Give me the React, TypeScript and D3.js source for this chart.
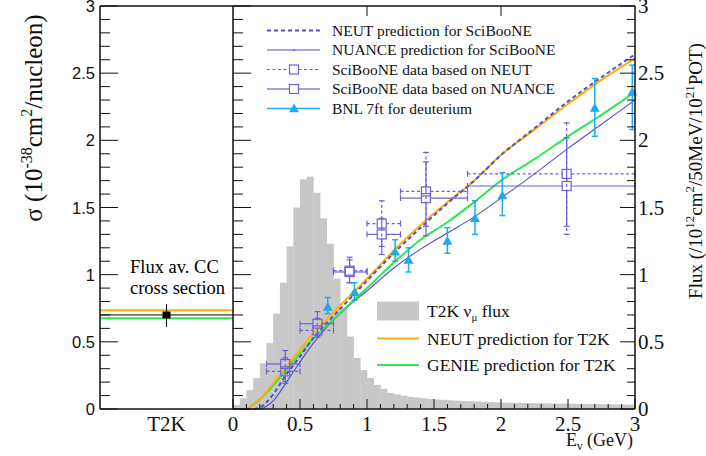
import React from "react";
import * as d3 from "d3";

// ---------------- DATA ----------------
// T2K nu_mu flux histogram, 50 MeV bins from 0 to 3 GeV (right axis units)
const fluxBinWidth = 0.05;
const fluxValues = [
  0.03, 0.08, 0.14, 0.23, 0.34, 0.49, 0.71, 0.94, 1.21, 1.5,
  1.71, 1.73, 1.61, 1.42, 1.23, 0.97, 0.75, 0.54, 0.38, 0.29,
  0.23, 0.18, 0.15, 0.12, 0.11, 0.1, 0.09, 0.085, 0.08, 0.075,
  0.07, 0.068, 0.065, 0.062, 0.06, 0.058, 0.056, 0.054, 0.052, 0.05,
  0.048, 0.047, 0.046, 0.045, 0.044, 0.043, 0.042, 0.041, 0.04, 0.04,
  0.039, 0.038, 0.037, 0.036, 0.036, 0.035, 0.034, 0.034, 0.033, 0.032,
];

// prediction curves (sigma vs E)
const curveE = [0, 0.1, 0.15, 0.2, 0.25, 0.3, 0.4, 0.5, 0.6, 0.7, 0.8, 0.9, 1.0, 1.2, 1.4, 1.6, 1.8, 2.0, 2.25, 2.5, 2.75, 3.0];
const neutSciBooNE = [0, 0, 0, 0.01, 0.05, 0.11, 0.26, 0.39, 0.53, 0.64, 0.745, 0.85, 0.955, 1.16, 1.35, 1.53, 1.7, 1.89, 2.09, 2.29, 2.47, 2.64];
const nuanceSciBooNE = [0, 0, 0, 0, 0.02, 0.06, 0.2, 0.35, 0.49, 0.61, 0.71, 0.8, 0.88, 1.05, 1.19, 1.31, 1.43, 1.57, 1.75, 1.94, 2.12, 2.3];
const neutT2K = [NaN, 0, 0.03, 0.07, 0.13, 0.19, 0.315, 0.44, 0.565, 0.665, 0.77, 0.87, 0.97, 1.18, 1.37, 1.54, 1.7, 1.89, 2.08, 2.27, 2.45, 2.61];
const genieT2K = [NaN, 0, 0.03, 0.07, 0.12, 0.175, 0.295, 0.41, 0.525, 0.62, 0.715, 0.81, 0.9, 1.09, 1.26, 1.39, 1.54, 1.7, 1.86, 2.03, 2.19, 2.36];

// SciBooNE data points
const sbE = [0.39, 0.63, 0.87, 1.11, 1.44, 2.49];
const sbELow = [0.25, 0.5, 0.75, 1.0, 1.25, 1.75];
const sbEHigh = [0.5, 0.75, 1.0, 1.25, 1.75, 3.0];
const sbNeut = [0.28, 0.585, 1.03, 1.38, 1.62, 1.75];
const sbNeutUp = [0.1, 0.09, 0.1, 0.17, 0.29, 0.38];
const sbNeutDn = [0.09, 0.05, 0.09, 0.17, 0.26, 0.45];
const sbNuance = [0.335, 0.635, 1.02, 1.3, 1.57, 1.66];
const sbNuanceUp = [0.1, 0.09, 0.09, 0.12, 0.27, 0.36];
const sbNuanceDn = [0.13, 0.09, 0.08, 0.15, 0.28, 0.3];

// BNL 7ft deuterium
const bnlE = [0.707, 0.907, 1.21, 1.31, 1.6, 1.806, 2.01, 2.7, 2.98];
const bnlSigma = [0.76, 0.87, 1.17, 1.11, 1.25, 1.42, 1.59, 2.24, 2.36];
const bnlUp = [0.07, 0.07, 0.09, 0.09, 0.1, 0.13, 0.17, 0.22, 0.2];
const bnlDn = [0.05, 0.06, 0.07, 0.09, 0.09, 0.12, 0.15, 0.21, 0.28];

// Flux averaged CC cross section (left panel)
const t2kMeasured = 0.7;
const t2kUp = 0.08;
const t2kDn = 0.09;
const t2kNeut = 0.735;
const t2kGenie = 0.675;

const yTicksMajor = [0, 0.5, 1, 1.5, 2, 2.5, 3];
const yTickLabels = ["0", "0.5", "1", "1.5", "2", "2.5", "3"];
const xTicksMajor = [0, 0.5, 1, 1.5, 2, 2.5, 3];
const xTickLabels = ["0", "0.5", "1", "1.5", "2", "2.5", "3"];

const legendTop = [
  "NEUT prediction for SciBooNE",
  "NUANCE prediction for SciBooNE",
  "SciBooNE data based on NEUT",
  "SciBooNE data based on NUANCE",
  "BNL 7ft for deuterium",
];

// ---------------- STYLE ----------------
const SERIF = "'Liberation Serif', 'Times New Roman', serif";
const SANS = "'Liberation Sans', Arial, sans-serif";
const C_ORANGE = "#ffb000";
const C_GREEN = "#2de84f";
const C_PRED = "#4f4fd8";
const C_DATA = "#6a62d6";
const C_BNL = "#1eaaee";
const C_HIST = "#c8c8c8";

const W = 706;
const H = 456;
const LX0 = 100;
const MX0 = 233;
const MX1 = 635;
const Y0 = 409;
const Y1 = 6;

export default function App() {
  const x = d3.scaleLinear().domain([0, 3]).range([MX0, MX1]);
  const y = d3.scaleLinear().domain([0, 3]).range([Y0, Y1]);
  const yFlux = d3.scaleLinear().domain([0, 3]).range([Y0, Y1]);

  const minor = d3.range(0, 3.0001, 0.1).map((v) => +v.toFixed(2));

  const lineGen = (vals: number[]) =>
    d3
      .line<number>()
      .defined((d) => !isNaN(d))
      .x((_, i) => x(curveE[i]))
      .y((d) => y(d))
      .curve(d3.curveMonotoneX)(vals) || "";

  const sq = 4.5;
  const cap = 3;

  const errBar = (
    xc: number,
    yc: number,
    xl: number,
    xh: number,
    yh: number,
    yl: number,
    color: string,
    dash: string | undefined,
    key: string,
    half: number
  ) => (
    <g key={key} stroke={color} strokeWidth={1.2} fill="none" strokeDasharray={dash}>
      <line x1={xl} x2={xc - half} y1={yc} y2={yc} />
      <line x1={xc + half} x2={xh} y1={yc} y2={yc} />
      <line x1={xc} x2={xc} y1={yc - half} y2={yh} />
      <line x1={xc} x2={xc} y1={yc + half} y2={yl} />
      <line x1={xl} x2={xl} y1={yc - cap} y2={yc + cap} strokeDasharray="none" />
      <line x1={xh} x2={xh} y1={yc - cap} y2={yc + cap} strokeDasharray="none" />
      <line x1={xc - cap} x2={xc + cap} y1={yh} y2={yh} strokeDasharray="none" />
      <line x1={xc - cap} x2={xc + cap} y1={yl} y2={yl} strokeDasharray="none" />
    </g>
  );

  const tri = (cx: number, cy: number, s: number) =>
    `M${cx},${cy - s} L${cx + s},${cy + s * 0.75} L${cx - s},${cy + s * 0.75} Z`;

  const t2kX = (LX0 + MX0) / 2;
  const lgX1 = 267;
  const lgX2 = 320;
  const lgMid = 294;
  const lgTextX = 332;
  const lgRows = [30.5, 50, 69.5, 89, 108.5];

  const l2X1 = 377;
  const l2X2 = 419;
  const l2TextX = 427;
  const l2Rows = [311, 338.5, 365];

  return (
    <svg width={W} height={H} style={{ position: "absolute", left: 0, top: 0, background: "#fff" }}>
      {/* histogram */}
      <g>
        {fluxValues.map((v, i) => (
          <rect
            key={i}
            x={x(i * fluxBinWidth)}
            y={yFlux(v)}
            width={x(fluxBinWidth) - x(0) + 0.3}
            height={Y0 - yFlux(v)}
            fill={C_HIST}
          />
        ))}
      </g>

      {/* prediction curves */}
      <path d={lineGen(nuanceSciBooNE)} fill="none" stroke={C_PRED} strokeWidth={1.1} />
      <path d={lineGen(genieT2K)} fill="none" stroke={C_GREEN} strokeWidth={2} />
      <path d={lineGen(neutT2K)} fill="none" stroke={C_ORANGE} strokeWidth={2} />
      <path d={lineGen(neutSciBooNE)} fill="none" stroke={C_PRED} strokeWidth={2} strokeDasharray="4,3" />

      {/* SciBooNE data based on NEUT (dashed) */}
      {sbE.map((e, i) =>
        errBar(
          x(e),
          y(sbNeut[i]),
          x(sbELow[i]),
          x(sbEHigh[i]),
          y(sbNeut[i] + sbNeutUp[i]),
          y(sbNeut[i] - sbNeutDn[i]),
          C_DATA,
          "3,2.5",
          "neut" + i,
          sq
        )
      )}
      {sbE.map((e, i) => (
        <rect key={"sqn" + i} x={x(e) - sq} y={y(sbNeut[i]) - sq} width={sq * 2} height={sq * 2} fill="none" stroke={C_DATA} strokeWidth={1.2} />
      ))}
      {/* SciBooNE data based on NUANCE (solid) */}
      {sbE.map((e, i) =>
        errBar(
          x(e),
          y(sbNuance[i]),
          x(sbELow[i]),
          x(sbEHigh[i]),
          y(sbNuance[i] + sbNuanceUp[i]),
          y(sbNuance[i] - sbNuanceDn[i]),
          C_DATA,
          undefined,
          "nua" + i,
          sq
        )
      )}
      {sbE.map((e, i) => (
        <rect key={"squ" + i} x={x(e) - sq} y={y(sbNuance[i]) - sq} width={sq * 2} height={sq * 2} fill="none" stroke={C_DATA} strokeWidth={1.2} />
      ))}

      {/* BNL */}
      {bnlE.map((e, i) => (
        <g key={"bnl" + i} stroke={C_BNL} strokeWidth={1.5}>
          <line x1={x(e)} x2={x(e)} y1={y(bnlSigma[i] + bnlUp[i])} y2={y(bnlSigma[i] - bnlDn[i])} />
          <line x1={x(e) - cap} x2={x(e) + cap} y1={y(bnlSigma[i] + bnlUp[i])} y2={y(bnlSigma[i] + bnlUp[i])} />
          <line x1={x(e) - cap} x2={x(e) + cap} y1={y(bnlSigma[i] - bnlDn[i])} y2={y(bnlSigma[i] - bnlDn[i])} />
          <path d={tri(x(e), y(bnlSigma[i]), 5)} fill={C_BNL} stroke="none" />
        </g>
      ))}

      {/* left panel */}
      <line x1={LX0} x2={MX0} y1={y(t2kNeut)} y2={y(t2kNeut)} stroke={C_ORANGE} strokeWidth={2} />
      <line x1={LX0} x2={MX0} y1={y(t2kGenie)} y2={y(t2kGenie)} stroke={C_GREEN} strokeWidth={2} />
      <line x1={LX0} x2={MX0} y1={y(t2kMeasured)} y2={y(t2kMeasured)} stroke="#000" strokeWidth={1} />
      <line x1={t2kX} x2={t2kX} y1={y(t2kMeasured + t2kUp)} y2={y(t2kMeasured - t2kDn)} stroke="#000" strokeWidth={1} />
      <rect x={t2kX - 4} y={y(t2kMeasured) - 3.5} width={8} height={7} fill="#000" />
      <text x={130} y={273} fontFamily={SERIF} fontSize={18.5}>Flux av. CC</text>
      <text x={130} y={294} fontFamily={SERIF} fontSize={18.5}>cross section</text>

      {/* frames */}
      <g stroke="#111" strokeWidth={1.5} fill="none">
        <line x1={LX0} x2={MX1} y1={Y1} y2={Y1} />
        <line x1={LX0} x2={MX1} y1={Y0} y2={Y0} />
        <line x1={LX0} x2={LX0} y1={Y1} y2={Y0} />
        <line x1={MX0} x2={MX0} y1={Y1} y2={Y0} />
        <line x1={MX1} x2={MX1} y1={Y1} y2={Y0} />
      </g>

      {/* ticks */}
      <g stroke="#111" strokeWidth={1}>
        {minor.map((v) => {
          const isMaj = Math.abs(v * 2 - Math.round(v * 2)) < 1e-6;
          const L = isMaj ? 18 : 10;
          const R = isMaj ? 15 : 8;
          const B = isMaj ? 10 : 5;
          return (
            <g key={"t" + v}>
              <line x1={LX0} x2={LX0 + L} y1={y(v)} y2={y(v)} />
              <line x1={MX0} x2={MX0 + L} y1={y(v)} y2={y(v)} />
              <line x1={MX1} x2={MX1 - R} y1={yFlux(v)} y2={yFlux(v)} />
              <line x1={x(v)} x2={x(v)} y1={Y0} y2={Y0 - B} />
            </g>
          );
        })}
        {[1, 2].map((v) => (
          <line key={"top" + v} x1={x(v)} x2={x(v)} y1={Y1} y2={Y1 + 10} />
        ))}
      </g>

      {/* left axis labels (sans) */}
      {yTicksMajor.map((v, i) => (
        <text key={"yl" + i} x={95} y={y(v) + 6} textAnchor="end" fontFamily={SANS} fontSize={16.5} fill="#111">
          {yTickLabels[i]}
        </text>
      ))}
      {/* right axis labels (serif) */}
      {yTicksMajor.map((v, i) => (
        <text key={"yr" + i} x={638} y={yFlux(v) + 7} textAnchor="start" fontFamily={SERIF} fontSize={21} fill="#111">
          {yTickLabels[i]}
        </text>
      ))}
      {/* bottom labels */}
      {xTicksMajor.map((v, i) => (
        <text key={"xl" + i} x={x(v)} y={431} textAnchor="middle" fontFamily={SERIF} fontSize={21} fill="#111">
          {xTickLabels[i]}
        </text>
      ))}
      <text x={t2kX} y={431} textAnchor="middle" fontFamily={SERIF} fontSize={21} fill="#111">T2K</text>

      {/* axis titles */}
      <text x={633} y={446} textAnchor="end" fontFamily={SERIF} fontSize={18} fill="#111">
        E<tspan dy={4} fontSize={12}>ν</tspan>
        <tspan dy={-4}> (GeV)</tspan>
      </text>
      <text transform={`translate(42,118) rotate(-90)`} textAnchor="middle" fontFamily={SERIF} fontSize={25} fill="#111">
        σ (10<tspan dy={-10} fontSize={16}>-38</tspan>
        <tspan dy={10}>cm</tspan>
        <tspan dy={-10} fontSize={16}>2</tspan>
        <tspan dy={10}>/nucleon)</tspan>
      </text>
      <text transform={`translate(702,171) rotate(-90)`} textAnchor="middle" fontFamily={SERIF} fontSize={19} fill="#111">
        Flux (/10<tspan dy={-8} fontSize={13}>12</tspan>
        <tspan dy={8}>cm</tspan>
        <tspan dy={-8} fontSize={13}>2</tspan>
        <tspan dy={8}>/50MeV/10</tspan>
        <tspan dy={-8} fontSize={13}>21</tspan>
        <tspan dy={8}>POT)</tspan>
      </text>

      {/* top legend */}
      <g>
        <line x1={lgX1} x2={lgX2} y1={lgRows[0]} y2={lgRows[0]} stroke={C_PRED} strokeWidth={2} strokeDasharray="4,3" />
        <line x1={lgX1} x2={lgX2} y1={lgRows[1]} y2={lgRows[1]} stroke={C_PRED} strokeWidth={1.1} />
        <circle cx={lgMid} cy={lgRows[1]} r={0.9} fill={C_PRED} />
        <line x1={lgX1} x2={lgMid - sq} y1={lgRows[2]} y2={lgRows[2]} stroke={C_DATA} strokeWidth={1.2} strokeDasharray="3,2.5" />
        <line x1={lgMid + sq} x2={lgX2} y1={lgRows[2]} y2={lgRows[2]} stroke={C_DATA} strokeWidth={1.2} strokeDasharray="3,2.5" />
        <rect x={lgMid - sq} y={lgRows[2] - sq} width={sq * 2} height={sq * 2} fill="none" stroke={C_DATA} strokeWidth={1.2} />
        <line x1={lgX1} x2={lgMid - sq} y1={lgRows[3]} y2={lgRows[3]} stroke={C_DATA} strokeWidth={1.2} />
        <line x1={lgMid + sq} x2={lgX2} y1={lgRows[3]} y2={lgRows[3]} stroke={C_DATA} strokeWidth={1.2} />
        <rect x={lgMid - sq} y={lgRows[3] - sq} width={sq * 2} height={sq * 2} fill="none" stroke={C_DATA} strokeWidth={1.2} />
        <line x1={lgX1} x2={lgX2} y1={lgRows[4]} y2={lgRows[4]} stroke={C_BNL} strokeWidth={1.5} />
        <path d={tri(lgMid, lgRows[4], 5)} fill={C_BNL} />
        {legendTop.map((t, i) => (
          <text key={"lg" + i} x={lgTextX} y={lgRows[i] + 5} fontFamily={SERIF} fontSize={15.5} fill="#111">
            {t}
          </text>
        ))}
      </g>

      {/* bottom legend */}
      <g>
        <rect x={l2X1} y={l2Rows[0] - 9.5} width={l2X2 - l2X1} height={19} fill={C_HIST} />
        <line x1={l2X1} x2={l2X2} y1={l2Rows[1]} y2={l2Rows[1]} stroke={C_ORANGE} strokeWidth={2} />
        <line x1={l2X1} x2={l2X2} y1={l2Rows[2]} y2={l2Rows[2]} stroke={C_GREEN} strokeWidth={2} />
        <text x={l2TextX} y={l2Rows[0] + 6} fontFamily={SERIF} fontSize={17.5} fill="#111">
          T2K ν<tspan dy={4} fontSize={11}>μ</tspan>
          <tspan dy={-4}> flux</tspan>
        </text>
        <text x={l2TextX} y={l2Rows[1] + 6} fontFamily={SERIF} fontSize={17.5} fill="#111">NEUT prediction for T2K</text>
        <text x={l2TextX} y={l2Rows[2] + 6} fontFamily={SERIF} fontSize={17.5} fill="#111">GENIE prediction for T2K</text>
      </g>
    </svg>
  );
}
